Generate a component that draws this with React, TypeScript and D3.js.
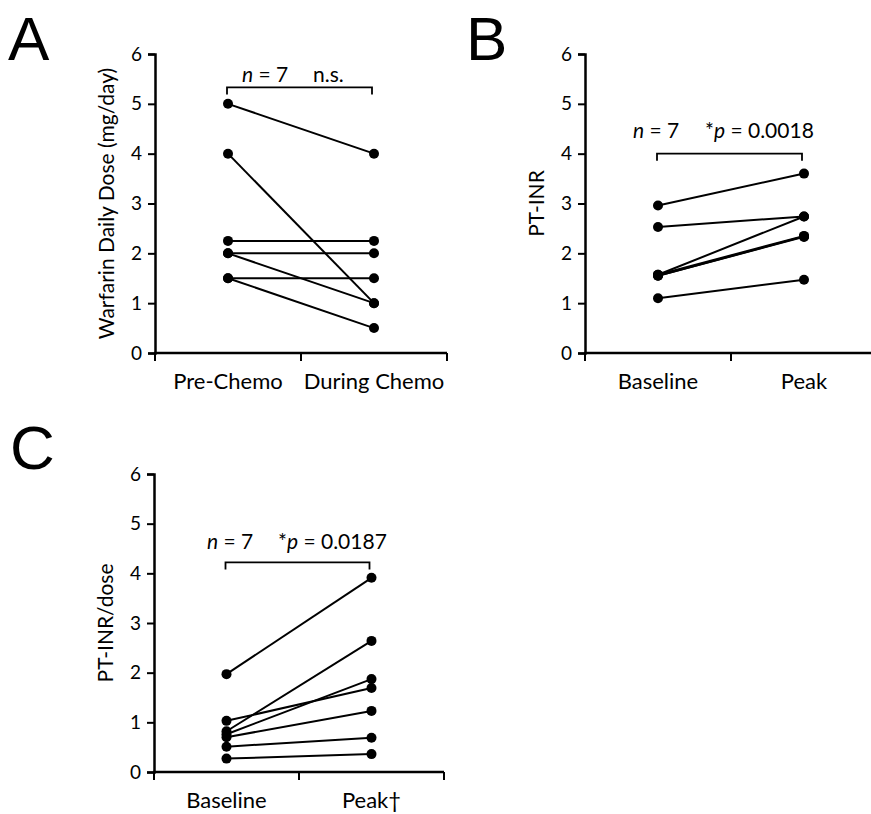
import * as d3 from "d3";
import { useEffect, useRef } from "react";

// Panel A: warfarin dose
const doseCategories = ["Pre-Chemo", "During Chemo"];
const doseBefore = [5, 4, 2.25, 2, 2, 1.5, 1.5];
const doseAfter = [4, 1, 2.25, 2, 1, 1.5, 0.5];

// Panel B: PT-INR
const inrCategories = ["Baseline", "Peak"];
const inrBefore = [2.96, 2.53, 1.57, 1.57, 1.55, 1.55, 1.1];
const inrAfter = [3.6, 2.74, 2.74, 2.35, 2.33, 2.34, 1.47];

// Panel C: PT-INR / dose
const ratioCategories = ["Baseline", "Peak\u2020"];
const ratioBefore = [1.97, 1.03, 0.82, 0.76, 0.7, 0.51, 0.27];
const ratioAfter = [3.91, 1.69, 2.64, 1.87, 1.23, 0.69, 0.36];

const yTicks = [0, 1, 2, 3, 4, 5, 6];

const FONT = "Lato, 'Open Sans', sans-serif";

const panels = [
  {
    letter: "A", letterX: 8, letterY: 60,
    left: 155, top: 54, width: 292, height: 299,
    categories: doseCategories, before: doseBefore, after: doseAfter,
    yLabel: "Warfarin Daily Dose (mg/day)",
    bracket: 5.33, textY: 5.44, nX: 87, statX: 158, stat: "n.s.",
  },
  {
    letter: "B", letterX: 466, letterY: 60,
    left: 585, top: 54, width: 292, height: 299,
    categories: inrCategories, before: inrBefore, after: inrAfter,
    yLabel: "PT-INR",
    bracket: 4.0, textY: 4.32, nX: 48, statX: 120, stat: "p = 0.0018",
  },
  {
    letter: "C", letterX: 10, letterY: 469,
    left: 154, top: 474, width: 290, height: 298,
    categories: ratioCategories, before: ratioBefore, after: ratioAfter,
    yLabel: "PT-INR/dose",
    bracket: 4.22, textY: 4.49, nX: 53, statX: 124, stat: "p = 0.0187",
  },
];

export default function App() {
  const svgRef = useRef<SVGSVGElement>(null);

  useEffect(() => {
    const svg = d3.select(svgRef.current);
    svg.selectAll("*").remove();

    panels.forEach((p) => {
      const g = svg.append("g");
      const x = d3.scaleBand().domain(p.categories).range([p.left, p.left + p.width]);
      const y = d3.scaleLinear().domain([0, 6]).range([p.top + p.height, p.top]);
      const cx = (c: string) => (x(c) as number) + x.bandwidth() / 2;

      // panel letter
      g.append("text")
        .attr("x", p.letterX)
        .attr("y", p.letterY)
        .attr("font-family", "'Liberation Sans', Arial, sans-serif")
        .attr("font-size", 62)
        .text(p.letter);

      // y axis
      const yAxis = g.append("g")
        .attr("transform", `translate(${p.left},0)`)
        .call(
          d3.axisLeft(y)
            .tickValues(yTicks)
            .tickFormat(d3.format("d"))
            .tickSize(7)
            .tickPadding(6)
            .tickSizeOuter(7)
        );
      yAxis.select(".domain").attr("stroke-width", 2.5).attr("stroke", "#000");
      yAxis.selectAll(".tick line").attr("stroke-width", 2).attr("stroke", "#000");
      yAxis.selectAll(".tick text")
        .attr("font-family", FONT)
        .attr("font-size", 19)
        .attr("fill", "#000");

      // x axis
      const [x0, x1] = x.range();
      const bottom = y(0);
      g.append("line")
        .attr("x1", x0 - 1).attr("x2", x1)
        .attr("y1", bottom).attr("y2", bottom)
        .attr("stroke", "#000").attr("stroke-width", 2.5);
      const edges = [...p.categories.map((c) => x(c) as number), x1];
      g.selectAll(".xtick")
        .data(edges)
        .enter()
        .append("line")
        .attr("x1", (d) => d).attr("x2", (d) => d)
        .attr("y1", bottom).attr("y2", bottom + 8)
        .attr("stroke", "#000").attr("stroke-width", 2);
      g.selectAll(".xlabel")
        .data(p.categories)
        .enter()
        .append("text")
        .attr("x", (d) => cx(d))
        .attr("y", bottom + 36)
        .attr("text-anchor", "middle")
        .attr("font-family", FONT)
        .attr("font-size", 22)
        .text((d) => d);

      // y label
      g.append("text")
        .attr("transform", `translate(${p.left - 41},${(y(0) + y(6)) / 2}) rotate(-90)`)
        .attr("text-anchor", "middle")
        .attr("font-family", FONT)
        .attr("font-size", 21)
        .text(p.yLabel);

      // paired lines
      const xa = cx(p.categories[0]);
      const xb = cx(p.categories[1]);
      g.selectAll(".pair")
        .data(p.before.map((b, i) => [b, p.after[i]]))
        .enter()
        .append("line")
        .attr("x1", xa).attr("x2", xb)
        .attr("y1", (d) => y(d[0])).attr("y2", (d) => y(d[1]))
        .attr("stroke", "#000").attr("stroke-width", 2);
      g.selectAll(".dotA")
        .data(p.before)
        .enter()
        .append("circle")
        .attr("cx", xa).attr("cy", (d) => y(d)).attr("r", 5).attr("fill", "#000");
      g.selectAll(".dotB")
        .data(p.after)
        .enter()
        .append("circle")
        .attr("cx", xb).attr("cy", (d) => y(d)).attr("r", 5).attr("fill", "#000");

      // bracket
      const by = y(p.bracket);
      g.append("path")
        .attr("d", `M${xa - 1},${by + 7}V${by}H${xb - 2}V${by + 7}`)
        .attr("fill", "none")
        .attr("stroke", "#000")
        .attr("stroke-width", 1.8);

      const ty = y(p.textY);
      const nText = g.append("text")
        .attr("x", p.left + p.nX)
        .attr("y", ty)
        .attr("font-family", FONT)
        .attr("font-size", 21);
      nText.append("tspan").attr("font-style", "italic").text("n");
      nText.append("tspan").text(" = 7");

      const sText = g.append("text")
        .attr("x", p.left + p.statX)
        .attr("y", ty)
        .attr("font-family", FONT)
        .attr("font-size", 21);
      if (p.stat === "n.s.") {
        sText.text("n.s.");
      } else {
        sText.append("tspan").text("*");
        sText.append("tspan").attr("font-style", "italic").text("p");
        sText.append("tspan").text(p.stat.slice(1));
      }
    });
  }, []);

  return (
    <svg
      ref={svgRef}
      width={871}
      height={814}
      style={{ position: "absolute", left: 0, top: 0, background: "#fff" }}
    ></svg>
  );
}
